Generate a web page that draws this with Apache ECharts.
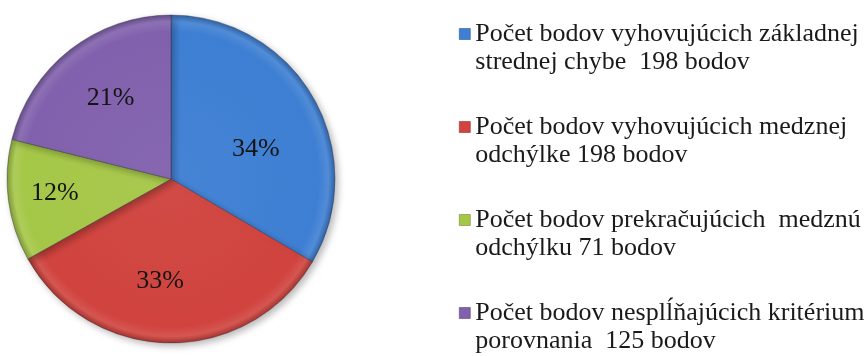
<!DOCTYPE html>
<html>
<head>
<meta charset="utf-8">
<script src="https://cdn.jsdelivr.net/npm/echarts@6/dist/echarts.min.js"></script>
<style>
  html, body { margin: 0; padding: 0; background: #ffffff; }
  #chart { width: 866px; height: 356px; }
</style>
</head>
<body>
<div id="chart"></div>
<script>
// Categories (two-line legend captions) and point counts
const categoryLine1 = [
  'Počet bodov vyhovujúcich základnej',
  'Počet bodov vyhovujúcich medznej',
  'Počet bodov prekračujúcich  medznú',
  'Počet bodov nesplĺňajúcich kritérium'
];
const categoryLine2 = [
  'strednej chybe  198 bodov',
  'odchýlke 198 bodov',
  'odchýlku 71 bodov',
  'porovnania  125 bodov'
];
const pointCounts = [198, 198, 71, 125];

// Slice colours
const sliceColors = ['#3e7fd3', '#d0433e', '#a5c748', '#8161ad'];
// Small nudges of the percentage labels away from the mid-radius
const labelNudge = [[11, 12], [-10, 17], [-32, 3], [-8, -14]];

const cx = 171, cy = 179, R = 164;

function shade(hex, f) {
  const n = parseInt(hex.slice(1), 16);
  let r = (n >> 16) & 255, g = (n >> 8) & 255, b = n & 255;
  const m = v => Math.max(0, Math.min(255, Math.round(f >= 0 ? v + (255 - v) * f : v * (1 + f))));
  return 'rgb(' + m(r) + ',' + m(g) + ',' + m(b) + ')';
}

function sliceFill(c) {
  return {
    type: 'radial', x: cx, y: cy, r: R, global: true,
    colorStops: [
      { offset: 0, color: shade(c, 0.04) },
      { offset: 0.9, color: c },
      { offset: 0.96, color: shade(c, 0.1) },
      { offset: 1, color: shade(c, -0.22) }
    ]
  };
}

const captionFont = { fontFamily: 'Liberation Serif', fontSize: 26, lineHeight: 28, color: '#1a1a1a' };

const chart = echarts.init(document.getElementById('chart'), null, { renderer: 'canvas' });

chart.setOption({
  animation: false,
  backgroundColor: '#ffffff',
  legend: {
    orient: 'vertical',
    left: 454,
    top: -13,
    height: 500,
    itemWidth: 11,
    itemHeight: 11,
    itemGap: 9,
    icon: 'rect',
    selectedMode: false,
    // an empty first row keeps the square level with the first caption row
    formatter: name => {
      const i = categoryLine1.indexOf(name);
      return '{c| }\n{c|' + categoryLine1[i] + '}\n{c|' + categoryLine2[i] + '}';
    },
    textStyle: Object.assign({ rich: { c: captionFont } }, captionFont),
    data: categoryLine1.map((n, i) => ({
      name: n,
      itemStyle: { color: sliceColors[i], borderColor: shade(sliceColors[i], -0.3), borderWidth: 0.6 }
    }))
  },
  series: [{
    type: 'pie',
    center: [cx, cy],
    radius: [0, R],
    startAngle: 90,
    clockwise: true,
    percentPrecision: 0,
    label: {
      show: true,
      position: 'inside',
      formatter: '{d}%',
      fontFamily: 'Liberation Serif',
      fontSize: 26,
      color: '#141414'
    },
    labelLine: { show: false },
    itemStyle: {
      borderColor: 'rgba(40,40,60,0.45)',
      borderWidth: 0.8,
      shadowBlur: 7,
      shadowOffsetX: 3,
      shadowOffsetY: 3,
      shadowColor: 'rgba(0,0,0,0.28)'
    },
    emphasis: { disabled: true },
    data: pointCounts.map((v, i) => ({
      name: categoryLine1[i],
      value: v,
      itemStyle: { color: sliceFill(sliceColors[i]) },
      label: { offset: labelNudge[i] }
    }))
  }]
});
</script>
</body>
</html>
